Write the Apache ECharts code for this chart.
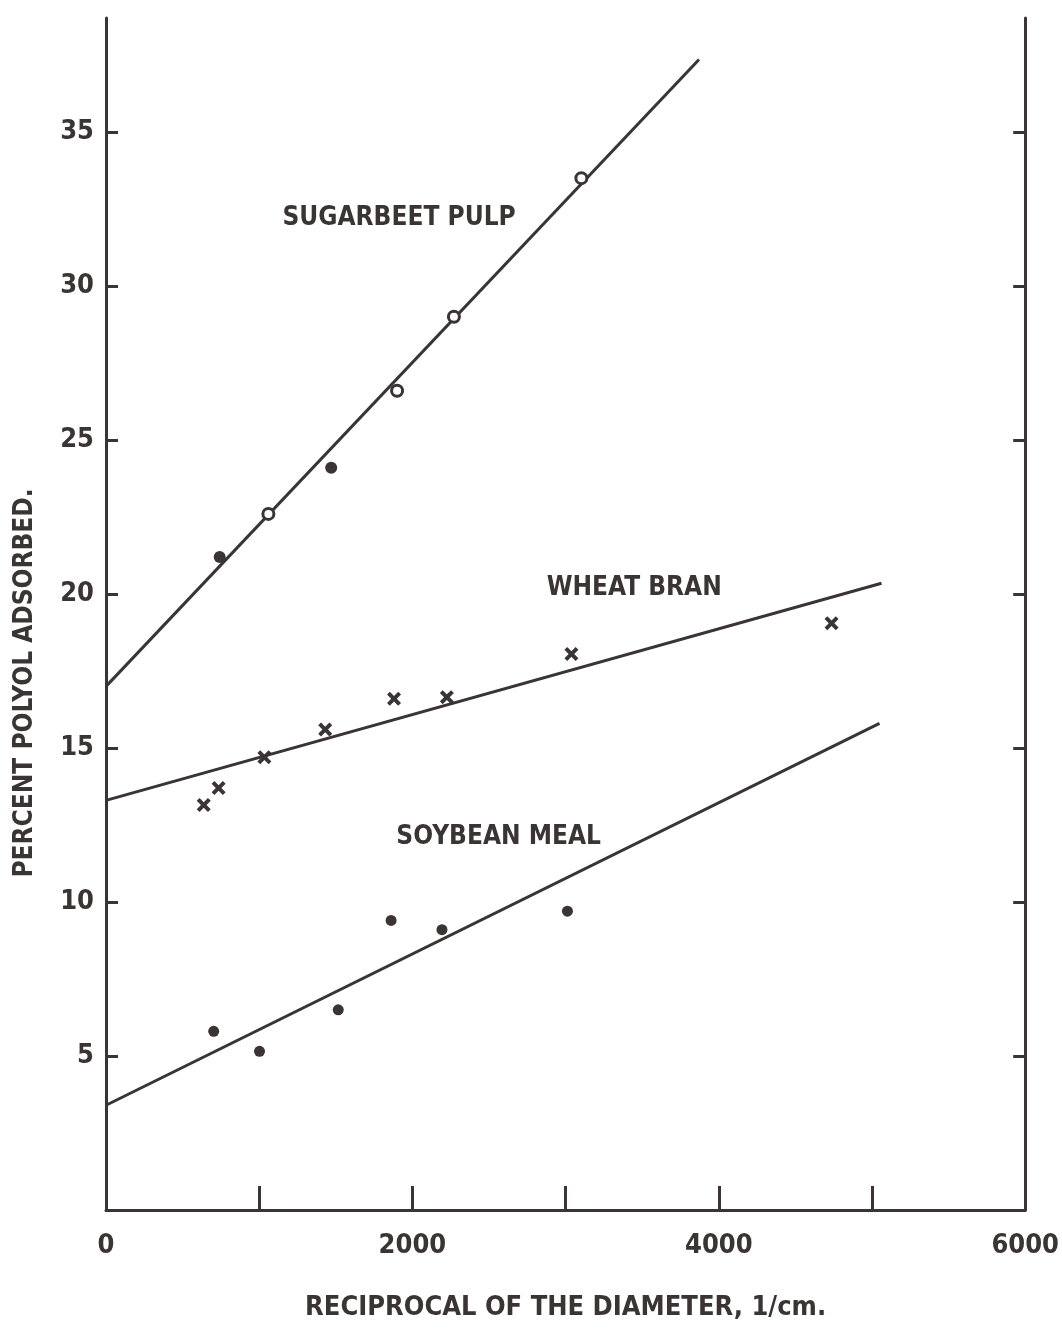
<!DOCTYPE html>
<html>
<head>
<meta charset="utf-8">
<script src="https://cdn.jsdelivr.net/npm/echarts@6/dist/echarts.min.js"></script>
<style>
  html, body { margin: 0; padding: 0; background: #ffffff; }
  #chart { width: 1062px; height: 1342px; }
</style>
</head>
<body>
<div id="chart"></div>
<script>
// ---- data ----
const sugarbeetOpenPoints   = [[1060, 22.6], [1900, 26.6], [2271, 29.0], [3103, 33.5]];
const sugarbeetFilledPoints = [[742, 21.2], [1470, 24.1]];
const wheatBranPoints = [[638, 13.15], [735, 13.7], [1034, 14.7], [1431, 15.6], [1880, 16.6], [2225, 16.65], [3038, 18.05], [4736, 19.05]];
const soybeanPoints   = [[703, 5.8], [1002, 5.15], [1516, 6.5], [1861, 9.4], [2193, 9.1], [3012, 9.7]];

const sugarbeetLine = [[0, 17.0], [3871, 37.35]];
const wheatBranLine = [[0, 13.3], [5062, 20.35]];
const soybeanLine   = [[0, 3.4], [5049, 15.8]];

const seriesNames = ['SUGARBEET PULP', 'WHEAT BRAN', 'SOYBEAN MEAL'];
const annotationPos = [[1913, 32.2], [3448, 20.2], [2563, 12.1]];

const xTickValues  = [1000, 2000, 3000, 4000, 5000];
const xLabelValues = [0, 2000, 4000, 6000];
const yTickValues  = [5, 10, 15, 20, 25, 30, 35];
const yLabelValues = [5, 10, 15, 20, 25, 30, 35];

const xTitle = 'RECIPROCAL OF THE DIAMETER, 1/cm.';
const yTitle = 'PERCENT POLYOL ADSORBED.';

// ---- styling ----
const INK = '#3a3434';
const FONT = "'Liberation Sans Narrow', 'DejaVu Sans Condensed', 'Arial Narrow', 'Roboto', sans-serif";
const crossPath = 'path://M2,0 L5,3 L8,0 L10,2 L7,5 L10,8 L8,10 L5,7 L2,10 L0,8 L3,5 L0,2 Z';

const chart = echarts.init(document.getElementById('chart'), null, { renderer: 'canvas' });

const fitLine = (data) => ({
  type: 'line', data: data, symbol: 'none', silent: true,
  lineStyle: { color: INK, width: 3 }, z: 2
});

const option = {
  backgroundColor: '#ffffff',
  animation: false,
  grid: { left: 106, right: 35, top: 18, bottom: 132, containLabel: false },
  xAxis: {
    type: 'value', min: 0, max: 6000, interval: 1000,
    name: xTitle, nameLocation: 'middle', nameGap: 84,
    nameTextStyle: { fontFamily: FONT, fontWeight: 'bold', fontSize: 27, color: INK },
    axisLine: { show: true, lineStyle: { color: INK, width: 3 } },
    axisTick: { show: true, inside: true, length: 24, customValues: xTickValues, lineStyle: { color: INK, width: 3 } },
    axisLabel: { customValues: xLabelValues, margin: 22, fontFamily: FONT, fontWeight: 'bold', fontSize: 27, color: INK,
                 formatter: (v) => String(v) },
    splitLine: { show: false }
  },
  yAxis: [
    {
      type: 'value', min: 0, max: 38.7, interval: 5, position: 'left',
      name: yTitle, nameLocation: 'middle', nameGap: 68,
      nameTextStyle: { fontFamily: FONT, fontWeight: 'bold', fontSize: 26, color: INK, padding: [0, 138, 0, 0] },
      axisLine: { show: true, lineStyle: { color: INK, width: 3 } },
      axisTick: { show: true, inside: true, length: 12, customValues: yTickValues, lineStyle: { color: INK, width: 3 } },
      axisLabel: { customValues: yLabelValues, margin: 12, fontFamily: FONT, fontWeight: 'bold', fontSize: 27, color: INK },
      splitLine: { show: false }
    },
    {
      type: 'value', min: 0, max: 38.7, interval: 5, position: 'right',
      axisLine: { show: true, lineStyle: { color: INK, width: 3 } },
      axisTick: { show: true, inside: true, length: 12, customValues: yTickValues, lineStyle: { color: INK, width: 3 } },
      axisLabel: { show: false },
      splitLine: { show: false }
    }
  ],
  series: [
    fitLine(sugarbeetLine),
    fitLine(wheatBranLine),
    fitLine(soybeanLine),
    {
      name: seriesNames[0], type: 'scatter', data: sugarbeetOpenPoints,
      symbol: 'circle', symbolSize: 11,
      itemStyle: { color: '#ffffff', borderColor: INK, borderWidth: 3, opacity: 1 }, z: 3
    },
    {
      name: seriesNames[0], type: 'scatter', data: sugarbeetFilledPoints,
      symbol: 'circle', symbolSize: 12,
      itemStyle: { color: INK, opacity: 1 }, z: 3
    },
    {
      name: seriesNames[1], type: 'scatter', data: wheatBranPoints,
      symbol: crossPath, symbolSize: 14,
      itemStyle: { color: INK, opacity: 1 }, z: 3
    },
    {
      name: seriesNames[2], type: 'scatter', data: soybeanPoints,
      symbol: 'circle', symbolSize: 11,
      itemStyle: { color: INK, opacity: 1 }, z: 3
    },
    {
      type: 'scatter', silent: true, symbol: 'circle', symbolSize: 1,
      itemStyle: { color: 'rgba(0,0,0,0)', opacity: 1 },
      data: annotationPos.map((p, i) => ({ value: p, name: seriesNames[i] })),
      label: {
        show: true, position: 'inside', formatter: (p) => p.name, opacity: 1,
        fontFamily: FONT, fontWeight: 'bold', fontSize: 26, color: INK
      },
      z: 4
    }
  ]
};

chart.setOption(option);
</script>
</body>
</html>
